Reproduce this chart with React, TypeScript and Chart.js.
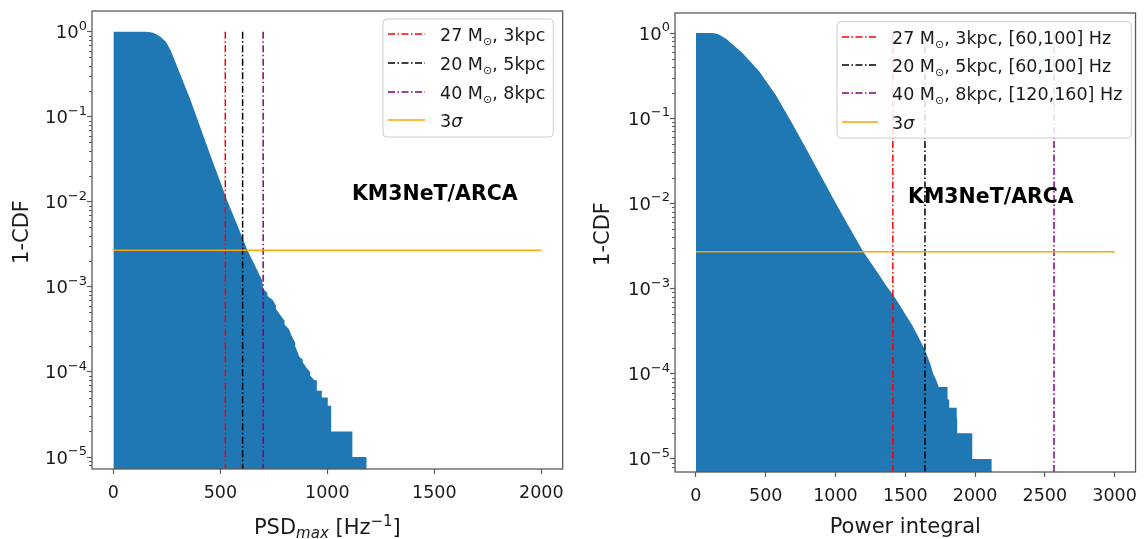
import React, { useEffect, useRef } from "react";
import { Chart, registerables } from "chart.js";

Chart.register(...registerables);

// ---------------- data ----------------
// Left panel: 1-CDF of PSD_max (histogram outline vertices: x value, 1-CDF value)
const psdX = [0, 150, 165, 185, 200, 220, 245, 267, 314, 360, 407, 450, 490, 531, 580, 625, 660, 695, 700, 720, 720, 745, 760, 760, 785, 800, 800, 820, 835, 850, 850, 870, 885, 885, 905, 920, 920, 940, 951, 951, 974, 974, 1002, 1002, 1018, 1018, 1117, 1117, 1184];
const psdCdf = [1, 1, 0.993, 0.97, 0.935, 0.871, 0.76, 0.61, 0.309, 0.158, 0.0741, 0.0372, 0.02, 0.0105, 0.00525, 0.00275, 0.00182, 0.0012, 0.00095, 0.00085, 0.00078, 0.0007, 0.0006, 0.00055, 0.00045, 0.0004, 0.00036, 0.00032, 0.00026, 0.00022, 0.0002, 0.00015, 0.00014, 0.00013, 0.00011, 0.0001, 0.00009, 0.00008, 0.00008, 0.00006, 0.00006, 0.00005, 0.00005, 0.00004, 0.00004, 0.00002, 0.00002, 0.00001, 0.00001];
const psdXTicks = [0, 500, 1000, 1500, 2000];
const psdLineX = [523, 604, 700];
const psdSigmaX = [0, 2000];

// Right panel: 1-CDF of power integral
const powX = [0, 100, 130, 160, 218, 335, 453, 571, 688, 800, 900, 1000, 1100, 1199, 1300, 1360, 1411, 1450, 1500, 1550, 1600, 1641, 1680, 1700, 1721, 1740, 1803, 1803, 1815, 1815, 1869, 1869, 1872, 1872, 1980, 1980, 2120];
const powCdf = [1, 1, 0.995, 0.97, 0.85, 0.58, 0.355, 0.188, 0.0877, 0.041, 0.0204, 0.0102, 0.0052, 0.0027, 0.00155, 0.0011, 0.00085, 0.00068, 0.0005, 0.00037, 0.00026, 0.00019, 0.00013, 0.0001, 0.000085, 0.00007, 0.00007, 0.00005, 0.00005, 0.00004, 0.00004, 0.00003, 0.00003, 0.00002, 0.00002, 0.00001, 0.00001];
const powXTicks = [0, 500, 1000, 1500, 2000, 2500, 3000];
const powLineX = [1411, 1641, 2566];
const powSigmaX = [0, 3000];

const yTicks = [1e-5, 1e-4, 1e-3, 1e-2, 1e-1, 1];
const yTickBase = "10";
const yTickExps = ["−5", "−4", "−3", "−2", "−1", "0"];
const sigma3 = 0.0027;

const psdLegend = ["27 M⊙, 3kpc", "20 M⊙, 5kpc", "40 M⊙, 8kpc", "3σ"];
const powLegend = ["27 M⊙, 3kpc, [60,100] Hz", "20 M⊙, 5kpc, [60,100] Hz", "40 M⊙, 8kpc, [120,160] Hz", "3σ"];
const annotText = "KM3NeT/ARCA";
const psdAnnot = { x: 1115, y: 0.0105 };
const powAnnot = { x: 1520, y: 0.01 };
const yTitle = "1-CDF";

type Seg = { t: string; size?: number; italic?: boolean; bold?: boolean; dy?: number };
const psdXTitle: Seg[] = [
  { t: "PSD" },
  { t: "max", italic: true, size: 15, dy: 4 },
  { t: " [Hz" },
  { t: "−1", size: 15, dy: -8 },
  { t: "]" },
];
const powXTitle: Seg[] = [{ t: "Power integral" }];

// ---------------- style ----------------
const FAMILY = '"DejaVu Sans", sans-serif';
const TEXT = "#1a1a1a";
const FRAME = "#5a5a5a";
const lineColors = ["#ff0000", "#000000", "#800080"];
const sigmaColor = "#ffa500";
const histColor = "#1f77b4";
const DASH = [7, 2.5, 1.5, 2.5];
const W = 573;
const H = 539;

type Spec = {
  pageLeft: number;
  area: { left: number; top: number; right: number; bottom: number };
  xMin: number; xMax: number; yMin: number; yMax: number;
  xTicks: number[];
  histX: number[]; histY: number[];
  lineX: number[]; sigmaX: number[];
  legend: string[];
  legendBox: { left: number; top: number; bottom: number; rows: number[]; sample: [number, number]; textX: number; padR: number };
  annot: { x: number; y: number };
  xTitle: Seg[]; xTitleBase: number;
  yTitleX: number; yTitleY: number;
};

const specs: Spec[] = [
  {
    pageLeft: 0,
    area: { left: 92, top: 11, right: 563, bottom: 469 },
    xMin: -100, xMax: 2100, yMin: 7.23e-6, yMax: 1.75,
    xTicks: psdXTicks,
    histX: psdX, histY: psdCdf,
    lineX: psdLineX, sigmaX: psdSigmaX,
    legend: psdLegend,
    legendBox: { left: 383, top: 19, bottom: 137, rows: [34, 63, 92, 120], sample: [388, 425], textX: 440, padR: 8 },
    annot: psdAnnot,
    xTitle: psdXTitle, xTitleBase: 534,
    yTitleX: 28.3, yTitleY: 232,
  },
  {
    pageLeft: 573,
    area: { left: 102, top: 13, right: 570, bottom: 472 },
    xMin: -150, xMax: 3150, yMin: 7.03e-6, yMax: 1.718,
    xTicks: powXTicks,
    histX: powX, histY: powCdf,
    lineX: powLineX, sigmaX: powSigmaX,
    legend: powLegend,
    legendBox: { left: 264, top: 21.7, bottom: 138, rows: [37, 65, 93, 122], sample: [269, 305], textX: 319, padR: 9 },
    annot: powAnnot,
    xTitle: powXTitle, xTitleBase: 533,
    yTitleX: 36, yTitleY: 234,
  },
];

// ---------------- rich text helpers ----------------
function segFont(s: Seg, base: number) {
  return `${s.italic ? "italic " : ""}${s.bold ? "bold " : ""}${s.size ?? base}px ${FAMILY}`;
}
function measureSegs(ctx: CanvasRenderingContext2D, segs: Seg[], base: number) {
  let w = 0;
  for (const s of segs) {
    ctx.font = segFont(s, base);
    w += ctx.measureText(s.t).width;
  }
  return w;
}
function drawSegs(ctx: CanvasRenderingContext2D, segs: Seg[], x: number, y: number, base: number) {
  for (const s of segs) {
    ctx.font = segFont(s, base);
    ctx.fillText(s.t, x, y + (s.dy ?? 0));
    x += ctx.measureText(s.t).width;
  }
}
function legendSegs(label: string): Seg[] {
  const out: Seg[] = [];
  let buf = "";
  for (const ch of label) {
    if (ch === "⊙" || ch === "σ") {
      if (buf) out.push({ t: buf });
      buf = "";
      out.push(ch === "⊙" ? { t: ch, size: 11, dy: 3.5 } : { t: ch, italic: true });
    } else buf += ch;
  }
  if (buf) out.push({ t: buf });
  return out;
}

function makeDecor(spec: Spec) {
  return {
    id: "decor",
    afterDraw(chart: any) {
      const { ctx, chartArea: a, scales } = chart;
      const sx = scales.x;
      const sy = scales.y;
      ctx.save();
      // frame
      ctx.strokeStyle = FRAME;
      ctx.lineWidth = 1.3;
      ctx.setLineDash([]);
      ctx.strokeRect(a.left, a.top, a.right - a.left, a.bottom - a.top);
      // minor log ticks
      ctx.lineWidth = 1;
      for (let d = -6; d <= 0; d++) {
        for (let m = 2; m <= 9; m++) {
          const v = m * Math.pow(10, d);
          if (v <= spec.yMin || v >= spec.yMax) continue;
          const y = Math.round(sy.getPixelForValue(v)) + 0.5;
          ctx.beginPath();
          ctx.moveTo(a.left - 3, y);
          ctx.lineTo(a.left, y);
          ctx.stroke();
        }
      }
      // y tick labels (10^n, mathtext-like)
      ctx.fillStyle = TEXT;
      ctx.textAlign = "left";
      ctx.textBaseline = "alphabetic";
      yTicks.forEach((v, i) => {
        const y = sy.getPixelForValue(v);
        const segs: Seg[] = [{ t: yTickBase }, { t: yTickExps[i], size: 13, dy: -8.5 }];
        const w = measureSegs(ctx, segs, 18);
        drawSegs(ctx, segs, a.left - 5 - w, y + 6.5, 18);
      });
      // annotation
      ctx.fillStyle = "#000";
      ctx.font = `bold 20.5px ${FAMILY}`;
      ctx.fillText(annotText, sx.getPixelForValue(spec.annot.x), sy.getPixelForValue(spec.annot.y));
      // legend
      const lb = spec.legendBox;
      const segsList = spec.legend.map(legendSegs);
      const maxW = Math.max(...segsList.map((s) => measureSegs(ctx, s, 17.5)));
      const right = lb.textX + maxW + lb.padR;
      ctx.beginPath();
      const r = 4;
      const L = lb.left, T = lb.top, R = right, B = lb.bottom;
      ctx.moveTo(L + r, T);
      ctx.lineTo(R - r, T);
      ctx.quadraticCurveTo(R, T, R, T + r);
      ctx.lineTo(R, B - r);
      ctx.quadraticCurveTo(R, B, R - r, B);
      ctx.lineTo(L + r, B);
      ctx.quadraticCurveTo(L, B, L, B - r);
      ctx.lineTo(L, T + r);
      ctx.quadraticCurveTo(L, T, L + r, T);
      ctx.closePath();
      ctx.fillStyle = "rgba(255,255,255,0.85)";
      ctx.fill();
      ctx.strokeStyle = "#cccccc";
      ctx.lineWidth = 1;
      ctx.stroke();
      spec.legend.forEach((_, i) => {
        const y = lb.rows[i];
        ctx.beginPath();
        ctx.strokeStyle = i < 3 ? lineColors[i] : sigmaColor;
        ctx.lineWidth = 1.5;
        ctx.setLineDash(i < 3 ? DASH : []);
        ctx.moveTo(lb.sample[0], y);
        ctx.lineTo(lb.sample[1], y);
        ctx.stroke();
        ctx.setLineDash([]);
        ctx.fillStyle = TEXT;
        drawSegs(ctx, segsList[i], lb.textX, y + 7, 17.5);
      });
      // x title
      ctx.fillStyle = TEXT;
      const tw = measureSegs(ctx, spec.xTitle, 21);
      drawSegs(ctx, spec.xTitle, (a.left + a.right) / 2 - tw / 2, spec.xTitleBase, 21);
      // y title
      ctx.save();
      ctx.translate(spec.yTitleX, spec.yTitleY);
      ctx.rotate(-Math.PI / 2);
      ctx.font = `21px ${FAMILY}`;
      ctx.textAlign = "center";
      ctx.fillText(yTitle, 0, 0);
      ctx.restore();
      ctx.restore();
    },
  };
}

function buildConfig(spec: Spec): any {
  const a = spec.area;
  const tickFont = { family: FAMILY, size: 17.5 };
  const datasets: any[] = [
    ...spec.lineX.map((x, i) => ({
      label: spec.legend[i],
      data: [{ x, y: 1 }, { x, y: 1e-7 }],
      borderColor: lineColors[i],
      borderWidth: 1.5,
      borderDash: DASH,
      pointRadius: 0,
      fill: false,
      order: 1,
    })),
    {
      label: spec.legend[3],
      data: spec.sigmaX.map((x) => ({ x, y: sigma3 })),
      borderColor: sigmaColor,
      borderWidth: 1.5,
      pointRadius: 0,
      fill: false,
      order: 0,
    },
    {
      label: "1-CDF",
      data: spec.histX.map((x, i) => ({ x, y: spec.histY[i] })),
      borderColor: "rgba(0,0,0,0)",
      borderWidth: 0,
      backgroundColor: histColor,
      fill: "start",
      pointRadius: 0,
      tension: 0,
      order: 2,
    },
  ];
  return {
    type: "line",
    data: { datasets },
    plugins: [makeDecor(spec)],
    options: {
      responsive: false,
      animation: false,
      events: [],
      layout: { padding: { left: 0, top: a.top, right: W - a.right, bottom: 0 } },
      plugins: { legend: { display: false }, tooltip: { enabled: false } },
      scales: {
        x: {
          type: "linear",
          min: spec.xMin,
          max: spec.xMax,
          border: { display: false },
          grid: { display: true, drawOnChartArea: false, drawTicks: true, tickLength: 5, tickColor: FRAME, tickWidth: 1.2 },
          ticks: {
            autoSkip: false,
            maxRotation: 0,
            padding: 9,
            color: TEXT,
            font: tickFont,
            callback: (_v: number, i: number) => String(spec.xTicks[i]),
          },
          afterBuildTicks: (s: any) => {
            s.ticks = spec.xTicks.map((v) => ({ value: v }));
          },
          afterFit: (s: any) => {
            s.height = H - a.bottom;
          },
        },
        y: {
          type: "logarithmic",
          min: spec.yMin,
          max: spec.yMax,
          border: { display: false },
          grid: { display: true, drawOnChartArea: false, drawTicks: true, tickLength: 5, tickColor: FRAME, tickWidth: 1.2 },
          ticks: { display: false, autoSkip: false },
          afterBuildTicks: (s: any) => {
            s.ticks = yTicks.map((v) => ({ value: v, major: true }));
          },
          afterFit: (s: any) => {
            s.width = a.left;
          },
        },
      },
    },
  };
}

function Panel({ spec }: { spec: Spec }) {
  const ref = useRef<HTMLCanvasElement>(null);
  useEffect(() => {
    const chart = new Chart(ref.current as HTMLCanvasElement, buildConfig(spec));
    return () => chart.destroy();
  }, [spec]);
  return (
    <canvas
      ref={ref}
      width={W}
      height={H}
      style={{ position: "absolute", left: spec.pageLeft, top: 0, width: W, height: H }}
    />
  );
}

export default function App() {
  return (
    <div style={{ position: "fixed", left: 0, top: 0, width: 1146, height: 539, background: "#fff", overflow: "hidden" }}>
      {specs.map((s, i) => (
        <Panel key={i} spec={s} />
      ))}
    </div>
  );
}
